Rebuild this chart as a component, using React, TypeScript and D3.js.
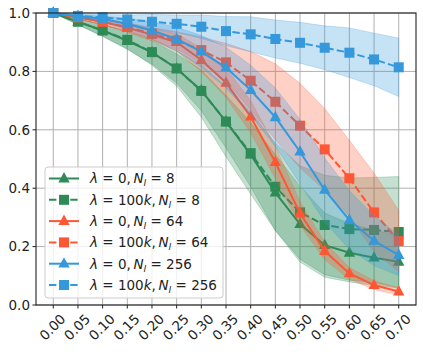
import React from 'react';
import * as d3 from 'd3';

const xTicks = [0, 0.05, 0.1, 0.15, 0.2, 0.25, 0.3, 0.35, 0.4, 0.45, 0.5, 0.55, 0.6, 0.65, 0.7];
const yTicks = [0, 0.2, 0.4, 0.6, 0.8, 1.0];

const green0 = [1.0, 0.97, 0.94, 0.905, 0.865, 0.81, 0.735, 0.628, 0.515, 0.385, 0.277, 0.205, 0.179, 0.162, 0.148];
const green0Std = [0, 0.01, 0.02, 0.03, 0.04, 0.05, 0.07, 0.09, 0.11, 0.13, 0.13, 0.11, 0.1, 0.095, 0.09];
const green100k = [1.0, 0.97, 0.94, 0.908, 0.866, 0.81, 0.733, 0.628, 0.52, 0.405, 0.317, 0.274, 0.26, 0.257, 0.25];
const green100kStd = [0, 0.01, 0.02, 0.03, 0.045, 0.06, 0.09, 0.12, 0.14, 0.15, 0.16, 0.17, 0.175, 0.18, 0.19];
const red0 = [1.0, 0.985, 0.97, 0.95, 0.925, 0.9, 0.839, 0.761, 0.645, 0.489, 0.314, 0.185, 0.108, 0.068, 0.046];
const red0Std = [0, 0.005, 0.01, 0.015, 0.02, 0.03, 0.04, 0.05, 0.055, 0.055, 0.04, 0.03, 0.02, 0.015, 0.012];
const red100k = [1.0, 0.985, 0.97, 0.952, 0.93, 0.906, 0.873, 0.831, 0.768, 0.696, 0.614, 0.533, 0.434, 0.317, 0.219];
const red100kStd = [0, 0.005, 0.01, 0.015, 0.02, 0.03, 0.045, 0.065, 0.1, 0.13, 0.145, 0.14, 0.13, 0.135, 0.105];
const blue0 = [1.0, 0.99, 0.98, 0.962, 0.94, 0.911, 0.868, 0.813, 0.736, 0.643, 0.525, 0.394, 0.291, 0.22, 0.171];
const blue0Std = [0, 0.005, 0.01, 0.02, 0.03, 0.04, 0.055, 0.07, 0.085, 0.1, 0.11, 0.11, 0.1, 0.085, 0.07];
const blue100k = [1.0, 0.99, 0.985, 0.978, 0.97, 0.963, 0.953, 0.938, 0.927, 0.911, 0.898, 0.881, 0.864, 0.841, 0.814];
const blue100kStd = [0, 0.005, 0.01, 0.015, 0.025, 0.03, 0.04, 0.05, 0.06, 0.065, 0.07, 0.075, 0.085, 0.09, 0.1];

const GREEN = '#2e8b57';
const RED = '#ff5733';
const BLUE = '#3498db';

// lamNum / lamUnit split so the "k" can be set in italics like mathtext
const series = [
  { lamNum: '0', lamUnit: '', n: '8', mean: green0, std: green0Std, color: GREEN, dashed: false },
  { lamNum: '100', lamUnit: 'k', n: '8', mean: green100k, std: green100kStd, color: GREEN, dashed: true },
  { lamNum: '0', lamUnit: '', n: '64', mean: red0, std: red0Std, color: RED, dashed: false },
  { lamNum: '100', lamUnit: 'k', n: '64', mean: red100k, std: red100kStd, color: RED, dashed: true },
  { lamNum: '0', lamUnit: '', n: '256', mean: blue0, std: blue0Std, color: BLUE, dashed: false },
  { lamNum: '100', lamUnit: 'k', n: '256', mean: blue100k, std: blue100kStd, color: BLUE, dashed: true },
];

const W = 423;
const H = 352;
const m = { left: 36, right: 7, top: 13, bottom: 47 };
const FONT = 'DejaVu Sans, sans-serif';
const FS = 13.5;

const Marker = ({ x, y, color, dashed }: { x: number; y: number; color: string; dashed: boolean }) => {
  if (dashed) {
    const s = 10;
    return <rect x={x - s / 2} y={y - s / 2} width={s} height={s} fill={color} />;
  }
  const r = 6.5;
  const p = `M${x},${y - r} L${x + r * 0.87},${y + r * 0.6} L${x - r * 0.87},${y + r * 0.6} Z`;
  return <path d={p} fill={color} />;
};

export default function App() {
  const x = d3.scaleLinear().domain([-0.035, 0.735]).range([m.left, W - m.right]);
  const y = d3.scaleLinear().domain([0, 1]).range([H - m.bottom, m.top]);

  const line = d3.line<number>().x((_, i) => x(xTicks[i])).y((d) => y(d));
  const band = (mean: number[], std: number[]) =>
    d3
      .area<number>()
      .x((_, i) => x(xTicks[i]))
      .y0((d, i) => y(d - std[i]))
      .y1((d, i) => y(d + std[i]))(mean) || '';

  const bottom = H - m.bottom;
  const legX = 45;
  const legY = 167;
  const rowH = 21.3;
  const lblY = bottom + 22;

  return (
    <svg width={W} height={H} style={{ position: 'absolute', left: 0, top: 0, background: '#fff' }} fontFamily={FONT}>
      {/* grid */}
      {xTicks.map((t) => (
        <line key={'gx' + t} x1={x(t)} x2={x(t)} y1={m.top} y2={bottom} stroke="#b0b0b0" strokeWidth={1} />
      ))}
      {yTicks.map((t) => (
        <line key={'gy' + t} x1={m.left} x2={W - m.right} y1={y(t)} y2={y(t)} stroke="#b0b0b0" strokeWidth={1} />
      ))}

      {series.map((s, k) => (
        <g key={k}>
          <path d={band(s.mean, s.std)} fill={s.color} fillOpacity={0.28} stroke={s.color} strokeOpacity={0.3} strokeWidth={0.8} />
          <path
            d={line(s.mean) || ''}
            fill="none"
            stroke={s.color}
            strokeWidth={2}
            strokeDasharray={s.dashed ? '7.4,3.2' : undefined}
          />
          {s.mean.map((v, i) => (
            <Marker key={i} x={x(xTicks[i])} y={y(v)} color={s.color} dashed={s.dashed} />
          ))}
        </g>
      ))}

      {/* axes frame */}
      <rect x={m.left} y={m.top} width={W - m.left - m.right} height={bottom - m.top} fill="none" stroke="#222" strokeWidth={1.1} />

      {yTicks.map((t) => (
        <g key={'yt' + t}>
          <line x1={m.left - 3.5} x2={m.left} y1={y(t)} y2={y(t)} stroke="#222" />
          <text x={30} y={y(t)} dy="0.36em" textAnchor="end" fontSize={FS} fill="#222">
            {t.toFixed(1)}
          </text>
        </g>
      ))}
      {xTicks.map((t) => (
        <g key={'xt' + t}>
          <line x1={x(t)} x2={x(t)} y1={bottom} y2={bottom + 3.5} stroke="#222" />
          <text
            x={x(t) - 1}
            y={lblY}
            textAnchor="middle"
            dominantBaseline="central"
            fontSize={FS}
            fill="#222"
            transform={`rotate(-45,${x(t) - 1},${lblY})`}
          >
            {t.toFixed(2)}
          </text>
        </g>
      ))}

      {/* legend */}
      <rect x={legX} y={legY} width={178} height={131} rx={3} fill="#fff" fillOpacity={0.8} stroke="#ccc" />
      {series.map((s, k) => {
        const cy = legY + 11.5 + k * rowH;
        return (
          <g key={'lg' + k}>
            <line
              x1={49}
              x2={79}
              y1={cy}
              y2={cy}
              stroke={s.color}
              strokeWidth={2}
              strokeDasharray={s.dashed ? '7.4,3.2' : undefined}
            />
            <Marker x={64} y={cy} color={s.color} dashed={s.dashed} />
            <text x={90} y={cy} dy="0.36em" fontSize={FS} fill="#222">
              <tspan fontStyle="italic">λ</tspan>
              <tspan>{' = ' + s.lamNum}</tspan>
              {s.lamUnit && <tspan fontStyle="italic">{s.lamUnit}</tspan>}
              <tspan>{',\u2009'}</tspan>
              <tspan fontStyle="italic">N</tspan>
              <tspan fontStyle="italic" fontSize={FS * 0.7} dy={3}>l</tspan>
              <tspan dy={-3}>{' = ' + s.n}</tspan>
            </text>
          </g>
        );
      })}
    </svg>
  );
}
